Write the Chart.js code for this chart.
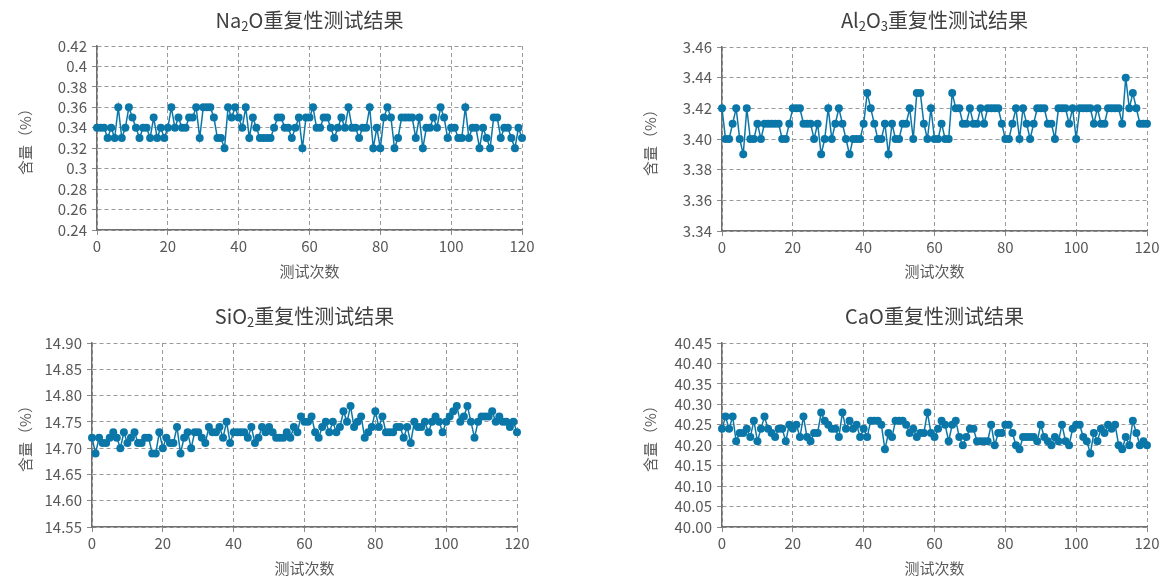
<!DOCTYPE html>
<html lang="zh">
<head>
<meta charset="UTF-8">
<title>重复性测试结果</title>
<script src="https://cdn.jsdelivr.net/npm/chart.js"></script>
<style>
    body {
        margin: 0;
        width: 1162px;
        height: 576px;
        overflow: hidden;
        background: #fff;
        font-family: "Noto Sans CJK SC", sans-serif;
    }

    .panel {
        position: absolute;
        width: 581px;
        height: 291px;
    }

    .panel canvas {
        display: block;
    }

    /* 图表标题（HTML 文本，方便写下标） */
    .title {
        position: absolute;
        text-align: center;
        font-size: 20px;
        line-height: 24px;
        color: #404040;
        white-space: nowrap;
    }

    .title sub {
        font-size: 13px;
        vertical-align: -3px;
        line-height: 0;
    }
</style>
</head>
<body>

<div class="panel" style="left:0;top:0"><canvas id="naChart" width="581" height="291"></canvas></div>
<div class="panel" style="left:581px;top:0"><canvas id="alChart" width="581" height="291"></canvas></div>
<div class="panel" style="left:0;top:297px"><canvas id="siChart" width="581" height="291"></canvas></div>
<div class="panel" style="left:581px;top:297px"><canvas id="caChart" width="581" height="291"></canvas></div>

<div class="title" style="left:97px;width:425px;top:8px">Na<sub>2</sub>O重复性测试结果</div>
<div class="title" style="left:722px;width:425px;top:8px">Al<sub>2</sub>O<sub>3</sub>重复性测试结果</div>
<div class="title" style="left:92px;width:425px;top:304px">SiO<sub>2</sub>重复性测试结果</div>
<div class="title" style="left:722px;width:425px;top:304px">CaO重复性测试结果</div>

<script>
    // 测试数据（第 0 ~ 120 次）
    const na2o = [
        0.34, 0.34, 0.34, 0.33, 0.34, 0.33, 0.36, 0.33, 0.34, 0.36, 0.35,
        0.34, 0.33, 0.34, 0.34, 0.33, 0.35, 0.33, 0.34, 0.33, 0.34, 0.36,
        0.34, 0.35, 0.34, 0.34, 0.35, 0.35, 0.36, 0.33, 0.36, 0.36, 0.36,
        0.35, 0.33, 0.33, 0.32, 0.36, 0.35, 0.36, 0.35,
        0.34, 0.36, 0.33, 0.35, 0.34, 0.33, 0.33, 0.33, 0.33,
        0.34, 0.35, 0.35, 0.34, 0.34, 0.33, 0.34, 0.35, 0.32, 0.35,
        0.35, 0.36, 0.34, 0.34, 0.35, 0.35, 0.34, 0.33, 0.34, 0.35,
        0.34, 0.36, 0.34, 0.34, 0.33, 0.34, 0.34, 0.36, 0.32, 0.34, 0.32, 0.35,
        0.36, 0.35, 0.32, 0.33, 0.35, 0.35, 0.35, 0.35, 0.33, 0.35, 0.32, 0.34, 0.34, 0.35, 0.34, 0.36, 0.35, 0.33,
        0.34, 0.34, 0.33, 0.33, 0.36, 0.33, 0.34, 0.34, 0.32, 0.34, 0.33, 0.32, 0.35, 0.35, 0.33, 0.34, 0.34, 0.33, 0.32, 0.34, 0.33
    ];

    const al2o3 = [
        3.42, 3.40, 3.40, 3.41, 3.42, 3.40, 3.39, 3.42, 3.40, 3.40, 3.41, 3.40,
        3.41, 3.41, 3.41, 3.41, 3.41, 3.40, 3.40, 3.41, 3.42, 3.42, 3.42,
        3.41, 3.41, 3.41, 3.40, 3.41, 3.39, 3.40, 3.42, 3.40, 3.41, 3.42, 3.41, 3.40, 3.39, 3.40, 3.40, 3.40, 3.41, 3.43,
        3.42, 3.41, 3.40, 3.40, 3.41, 3.39, 3.41, 3.40, 3.40, 3.41, 3.41, 3.42, 3.40, 3.43, 3.43, 3.41, 3.40, 3.42, 3.40,
        3.40, 3.41, 3.40, 3.40, 3.43, 3.42, 3.42, 3.41, 3.41, 3.42, 3.41, 3.41, 3.42, 3.41, 3.42, 3.42, 3.42, 3.42, 3.41, 3.40, 3.40,
        3.41, 3.42, 3.40, 3.42, 3.41, 3.40, 3.41, 3.42, 3.42, 3.42, 3.41, 3.41, 3.40, 3.42, 3.42, 3.42, 3.41, 3.42,
        3.40, 3.42, 3.42, 3.42, 3.42, 3.41, 3.42, 3.41, 3.41, 3.42, 3.42, 3.42, 3.42, 3.41, 3.44, 3.42, 3.43, 3.42, 3.41, 3.41, 3.41
    ];

    const sio2 = [
        14.72, 14.69, 14.72, 14.71, 14.71, 14.72, 14.73, 14.72, 14.70, 14.73, 14.71,
        14.72, 14.73, 14.71, 14.71, 14.72, 14.72, 14.69, 14.69, 14.73, 14.70,
        14.72, 14.71, 14.71, 14.74, 14.69, 14.72, 14.73, 14.70, 14.73, 14.73,
        14.72, 14.71, 14.74, 14.73, 14.73, 14.74, 14.72, 14.75, 14.71, 14.73,
        14.73, 14.73, 14.73, 14.72, 14.74, 14.71, 14.72, 14.74, 14.73, 14.74,
        14.73, 14.72, 14.72, 14.72, 14.73, 14.72, 14.74, 14.73, 14.76, 14.75,
        14.75, 14.76, 14.73, 14.72, 14.74, 14.75, 14.73, 14.75, 14.73, 14.74,
        14.77, 14.75, 14.78, 14.74, 14.75, 14.76, 14.72, 14.73, 14.74,
        14.77, 14.74, 14.76, 14.73, 14.73, 14.73, 14.74, 14.74, 14.72, 14.74,
        14.71, 14.75, 14.74, 14.74, 14.75, 14.73, 14.75, 14.76, 14.75, 14.73,
        14.75, 14.76, 14.77, 14.78, 14.75, 14.76, 14.78, 14.75, 14.72, 14.75,
        14.76, 14.76, 14.76, 14.77, 14.75, 14.76, 14.75, 14.75, 14.74, 14.75, 14.73
    ];

    const cao = [
        40.24, 40.27, 40.24, 40.27, 40.21, 40.23, 40.23, 40.24, 40.22, 40.26,
        40.21, 40.24, 40.27, 40.24, 40.23, 40.22, 40.24, 40.24, 40.21, 40.25,
        40.24, 40.25, 40.22, 40.27, 40.22, 40.21, 40.23, 40.23, 40.28, 40.26,
        40.25, 40.24, 40.24, 40.22, 40.28, 40.24, 40.26, 40.24, 40.25, 40.22,
        40.24, 40.22, 40.26, 40.26, 40.26, 40.25, 40.19, 40.23, 40.22, 40.26,
        40.26, 40.26, 40.25, 40.23, 40.24, 40.22, 40.23, 40.23, 40.28, 40.23,
        40.22, 40.24, 40.26, 40.25, 40.21, 40.25, 40.26, 40.22, 40.20, 40.22,
        40.24, 40.24, 40.21, 40.21, 40.21, 40.21, 40.25, 40.20, 40.23, 40.23,
        40.25, 40.25, 40.23, 40.20, 40.19, 40.22, 40.22, 40.22, 40.22, 40.21,
        40.25, 40.22, 40.21, 40.20, 40.22, 40.21, 40.25, 40.21, 40.20, 40.24,
        40.25, 40.25, 40.22, 40.21, 40.18, 40.23, 40.21, 40.24, 40.23, 40.25,
        40.24, 40.25, 40.20, 40.19, 40.22, 40.20, 40.26, 40.23, 40.20, 40.21, 40.20
    ];

    // 刻度文字（由下到上）
    const runTicks = ['0', '20', '40', '60', '80', '100', '120'];
    const naTicks = ['0.24', '0.26', '0.28', '0.3', '0.32', '0.34', '0.36', '0.38', '0.4', '0.42'];
    const alTicks = ['3.34', '3.36', '3.38', '3.40', '3.42', '3.44', '3.46'];
    const siTicks = ['14.55', '14.60', '14.65', '14.70', '14.75', '14.80', '14.85', '14.90'];
    const caTicks = ['40.00', '40.05', '40.10', '40.15', '40.20', '40.25', '40.30', '40.35', '40.40', '40.45'];

    const lineColor = '#0b77a8';
    const textColor = '#595959';

    Chart.defaults.font.family = '"Noto Sans CJK SC", "Noto Sans", sans-serif';

    function drawChart(id, values, yRange, yLabels, box) {
        const ctx = document.getElementById(id).getContext('2d');
        return new Chart(ctx, {
            type: 'line',
            data: {
                datasets: [{
                    data: values.map((v, i) => ({ x: i, y: v })),
                    borderColor: lineColor,
                    backgroundColor: lineColor,
                    borderWidth: 1.5,
                    pointRadius: 4,
                    pointHoverRadius: 4,
                    pointBorderWidth: 0,
                    tension: 0,
                    clip: false
                }]
            },
            options: {
                responsive: false,
                animation: false,
                layout: {
                    padding: { left: box.padLeft, top: box.padTop, right: box.padRight, bottom: 0 }
                },
                plugins: {
                    legend: { display: false },
                    tooltip: { enabled: false }
                },
                scales: {
                    x: {
                        type: 'linear',
                        min: 0,
                        max: 120,
                        afterFit: (scale) => { scale.height = box.xHeight; },
                        ticks: {
                            stepSize: 20,
                            autoSkip: false,
                            padding: 2,
                            color: textColor,
                            font: { size: 15 },
                            maxRotation: 0,
                            callback: (v, i) => runTicks[i]
                        },
                        grid: { color: '#9a9a9a', tickColor: '#8a8a8a', tickLength: 5 },
                        border: { color: '#6f6f6f', width: 1.5, dash: [4, 3] },
                        title: {
                            display: true,
                            text: '测试次数',
                            color: textColor,
                            font: { size: 15 },
                            padding: { top: 0, bottom: 11 }
                        }
                    },
                    y: {
                        min: yRange[0],
                        max: yRange[1],
                        afterFit: (scale) => { scale.width = box.yWidth; },
                        ticks: {
                            stepSize: yRange[2],
                            autoSkip: false,
                            padding: 5,
                            color: textColor,
                            font: { size: 15 },
                            callback: (v, i) => yLabels[i]
                        },
                        grid: { color: '#9a9a9a', tickColor: '#8a8a8a', tickLength: 5 },
                        border: { color: '#6f6f6f', width: 1.5, dash: [4, 3] },
                        title: {
                            display: true,
                            text: '含量（%）',
                            color: textColor,
                            font: { size: 15 },
                            padding: { top: 16, bottom: 0 }
                        }
                    }
                }
            }
        });
    }

    drawChart('naChart', na2o, [0.24, 0.42, 0.02], naTicks,
        { padLeft: 0, padTop: 46, padRight: 59, yWidth: 97, xHeight: 61 });
    drawChart('alChart', al2o3, [3.34, 3.46, 0.02], alTicks,
        { padLeft: 44, padTop: 47, padRight: 15, yWidth: 97, xHeight: 60 });
    drawChart('siChart', sio2, [14.55, 14.90, 0.05], siTicks,
        { padLeft: 0, padTop: 46, padRight: 64, yWidth: 92, xHeight: 61 });
    drawChart('caChart', cao, [40.00, 40.45, 0.05], caTicks,
        { padLeft: 44, padTop: 46, padRight: 15, yWidth: 97, xHeight: 61 });
</script>

</body>
</html>
